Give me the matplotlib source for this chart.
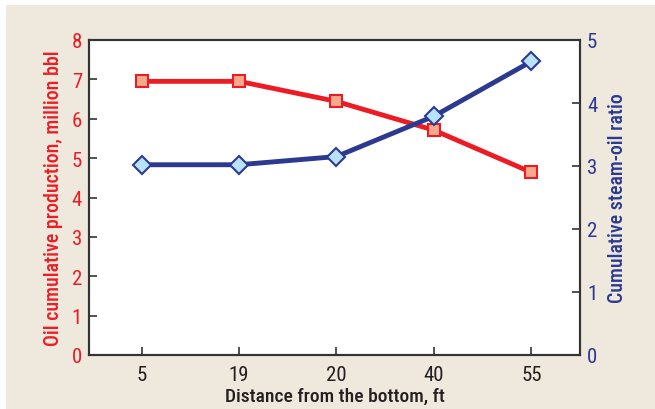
import matplotlib
matplotlib.use("Agg")
import matplotlib.pyplot as plt
from matplotlib.patches import Rectangle

plt.rcParams['font.family'] = ['Roboto Condensed', 'DejaVu Sans']

distance = ["5", "19", "20", "40", "55"]
oil_production = [6.95, 6.95, 6.44, 5.71, 4.64]
steam_oil_ratio = [3.02, 3.02, 3.15, 3.79, 4.66]

RED = "#ED1C24"
BLUE = "#2B3990"
BG = "#EEE8DD"

fig = plt.figure(figsize=(6.55, 4.1), dpi=100, facecolor="white")
fig.patches.append(Rectangle((6 / 655, 0), 1, 1 - 6 / 410, transform=fig.transFigure,
                             facecolor=BG, edgecolor="none", zorder=-10))

ax = fig.add_axes([89 / 655, 1 - 356 / 410, (580 - 89) / 655, (356 - 41) / 410])
ax2 = ax.twinx()

x = list(range(len(distance)))
ax.plot(x, oil_production, color=RED, lw=3.5, marker="s", ms=9,
        mfc="#F7A98E", mec=RED, mew=1.5, zorder=3)
ax2.plot(x, steam_oil_ratio, color=BLUE, lw=3.5, marker="D", ms=9,
         mfc="#B8E2F8", mec=BLUE, mew=1.5, zorder=3)

ax.set_xlim(-0.54, 4.5)
ax.set_ylim(0, 8)
ax2.set_ylim(0, 5)
ax.set_xticks(x)
ax.set_xticklabels(distance)
ax.set_yticks(range(0, 9))
ax2.set_yticks(range(0, 6))

for a in (ax, ax2):
    for s in a.spines.values():
        s.set_color("#333333")
        s.set_linewidth(1.5)
    a.tick_params(direction="in", length=6, width=1.2, color="#333333", labelsize=15)

ax.tick_params(axis="y", labelcolor=RED, pad=5)
ax2.tick_params(axis="y", labelcolor=BLUE, pad=5)
ax.tick_params(axis="x", labelcolor="#231F20", pad=7)

ax.set_xlabel("Distance from the bottom, ft", fontsize=14, color="#231F20",
              labelpad=2, fontweight="medium")
ax.set_ylabel("Oil cumulative production, million bbl", fontsize=14.3, color=RED,
              labelpad=6, fontweight="medium")
ax2.set_ylabel("Cumulative steam-oil ratio", fontsize=14.3, color=BLUE,
               labelpad=8, fontweight="medium")
ax.set_facecolor("white")

fig.savefig("out.png", dpi=100, facecolor=fig.get_facecolor())
